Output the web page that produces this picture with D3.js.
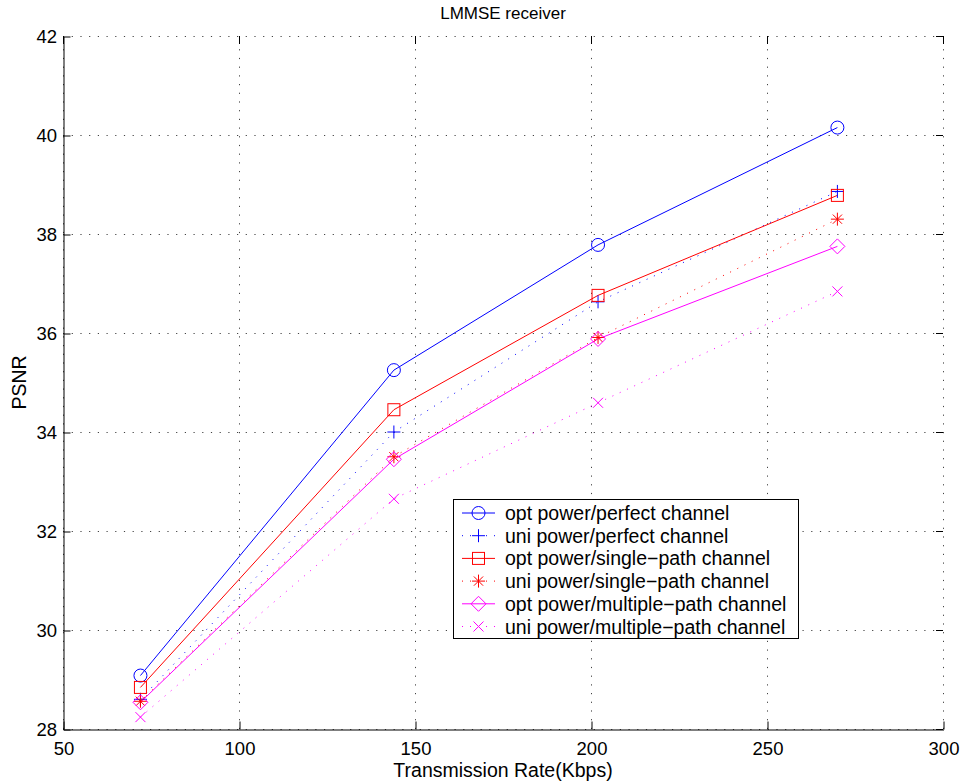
<!DOCTYPE html>
<html>
<head>
<meta charset="utf-8">
<script src="https://cdn.jsdelivr.net/npm/d3@7/dist/d3.min.js"></script>
<style>
  html, body { margin: 0; padding: 0; background: #fff; }
  svg { display: block; font-family: "Liberation Sans", Arial, Helvetica, sans-serif; }
</style>
</head>
<body>
<svg id="chart" width="963" height="784"></svg>
<script>
// Transmission rates (Kbps)
const rates = [72, 144, 202, 270];

// PSNR per scheme
const optPerfect  = [29.08, 35.25, 37.78, 40.15];
const uniPerfect  = [28.60, 34.00, 36.63, 38.86];
const optSingle   = [28.84, 34.45, 36.76, 38.78];
const uniSingle   = [28.56, 33.50, 35.91, 38.30];
const optMultiple = [28.54, 33.45, 35.88, 37.75];
const uniMultiple = [28.24, 32.65, 34.59, 36.84];

const seriesNames = [
  "opt power/perfect channel",
  "uni power/perfect channel",
  "opt power/single\u2212path channel",
  "uni power/single\u2212path channel",
  "opt power/multiple\u2212path channel",
  "uni power/multiple\u2212path channel"
];

const xTicks = [50, 100, 150, 200, 250, 300];
const yTicks = [28, 30, 32, 34, 36, 38, 40, 42];

const series = [
  { name: seriesNames[0], values: optPerfect,  color: "#0000ff", dotted: false, marker: "circle" },
  { name: seriesNames[1], values: uniPerfect,  color: "#0000ff", dotted: true,  marker: "plus" },
  { name: seriesNames[2], values: optSingle,   color: "#ff0000", dotted: false, marker: "square" },
  { name: seriesNames[3], values: uniSingle,   color: "#ff0000", dotted: true,  marker: "star" },
  { name: seriesNames[4], values: optMultiple, color: "#ff00ff", dotted: false, marker: "diamond" },
  { name: seriesNames[5], values: uniMultiple, color: "#ff00ff", dotted: true,  marker: "cross" }
];

const svg = d3.select("#chart");
const pLeft = 63, pRight = 943, pTop = 36, pBottom = 729;

const x = d3.scaleLinear().domain([50, 300]).range([pLeft, pRight]);
const y = d3.scaleLinear().domain([28, 42]).range([pBottom, pTop]);

// dotted grid
const grid = svg.append("g").attr("stroke", "#444").attr("stroke-width", 1)
  .attr("stroke-dasharray", "1.2,7.5").attr("fill", "none");
xTicks.forEach(t => {
  grid.append("line").attr("x1", x(t) + 0.5).attr("x2", x(t) + 0.5)
    .attr("y1", pBottom).attr("y2", pTop);
});
yTicks.forEach(t => {
  grid.append("line").attr("x1", pLeft).attr("x2", pRight)
    .attr("y1", y(t) + 0.5).attr("y2", y(t) + 0.5);
});

// axes with inward ticks
const xAxis = d3.axisBottom(x).tickValues(xTicks).tickSizeInner(-8).tickSizeOuter(0).tickPadding(12);
const yAxis = d3.axisLeft(y).tickValues(yTicks).tickSizeInner(-7).tickSizeOuter(0).tickPadding(6.5);

const gx = svg.append("g").attr("transform", `translate(0.5,${pBottom + 0.5})`).call(xAxis);
const gy = svg.append("g").attr("transform", `translate(${pLeft + 0.5},0.5)`).call(yAxis);
[gx, gy].forEach(g => {
  g.selectAll("path").attr("stroke", "#000").attr("stroke-width", 1);
  g.selectAll("line").attr("stroke", "#000").attr("stroke-width", 1);
  g.selectAll("text").attr("font-size", 18.5).attr("fill", "#000")
    .attr("font-family", "'Liberation Sans', Arial, sans-serif");
});

// right / top axis ticks
xTicks.forEach(t => {
  svg.append("line").attr("x1", x(t) + 0.5).attr("x2", x(t) + 0.5)
    .attr("y1", pTop).attr("y2", pTop + 8).attr("stroke", "#000");
});
yTicks.forEach(t => {
  svg.append("line").attr("x1", pRight - 7).attr("x2", pRight)
    .attr("y1", y(t) + 0.5).attr("y2", y(t) + 0.5).attr("stroke", "#000");
});

// lines
const line = d3.line().x((d, i) => x(rates[i])).y(d => y(d));
const plot = svg.append("g");
series.forEach(s => {
  plot.append("path").datum(s.values)
    .attr("d", line).attr("fill", "none")
    .attr("stroke", s.color).attr("stroke-width", 1)
    .attr("stroke-dasharray", s.dotted ? "1,7" : null);
});

// marker shapes
function drawMarker(g, type, cx, cy, color) {
  const m = g.append("g").attr("transform", `translate(${cx},${cy})`)
    .attr("fill", "none").attr("stroke", color).attr("stroke-width", 1);
  switch (type) {
    case "circle":
      m.append("circle").attr("r", 6.5); break;
    case "square":
      m.append("rect").attr("x", -6).attr("y", -6).attr("width", 12).attr("height", 12); break;
    case "diamond":
      m.append("path").attr("d", "M0,-7.5L7.5,0L0,7.5L-7.5,0Z"); break;
    case "plus":
      m.append("path").attr("d", "M-6.5,0H6.5M0,-6.5V6.5"); break;
    case "cross":
      m.append("path").attr("d", "M-5,-5L5,5M-5,5L5,-5"); break;
    case "star":
      m.append("path").attr("d", "M-6.5,0H6.5M0,-6.5V6.5M-4.6,-4.6L4.6,4.6M-4.6,4.6L4.6,-4.6"); break;
  }
}
series.forEach(s => {
  s.values.forEach((v, i) => drawMarker(plot, s.marker, x(rates[i]), y(v), s.color));
});

// title and axis labels
svg.append("text").attr("x", (pLeft + pRight) / 2).attr("y", 19)
  .attr("text-anchor", "middle").attr("font-size", 17).text("LMMSE receiver");
svg.append("text").attr("x", (pLeft + pRight) / 2).attr("y", 777)
  .attr("text-anchor", "middle").attr("font-size", 19.5).text("Transmission Rate(Kbps)");
svg.append("text").attr("transform", `translate(25.5,${(pTop + pBottom) / 2}) rotate(-90)`)
  .attr("text-anchor", "middle").attr("font-size", 19.5).text("PSNR");

// legend
const lg = svg.append("g");
const lx = 453, ly = 499, lw = 345, lh = 139;
lg.append("rect").attr("x", lx + 0.5).attr("y", ly + 0.5).attr("width", lw).attr("height", lh)
  .attr("fill", "#fff").attr("stroke", "#000").attr("stroke-width", 1);
series.forEach((s, i) => {
  const cy = 513 + i * 22.7;
  lg.append("line").attr("x1", 462).attr("x2", 495).attr("y1", cy).attr("y2", cy)
    .attr("stroke", s.color).attr("stroke-width", 1)
    .attr("stroke-dasharray", s.dotted ? "1,7" : null);
  drawMarker(lg, s.marker, 478.5, cy, s.color);
  lg.append("text").attr("x", 505).attr("y", cy).attr("dy", "0.36em")
    .attr("font-size", 19.5).text(s.name);
});
</script>
</body>
</html>
